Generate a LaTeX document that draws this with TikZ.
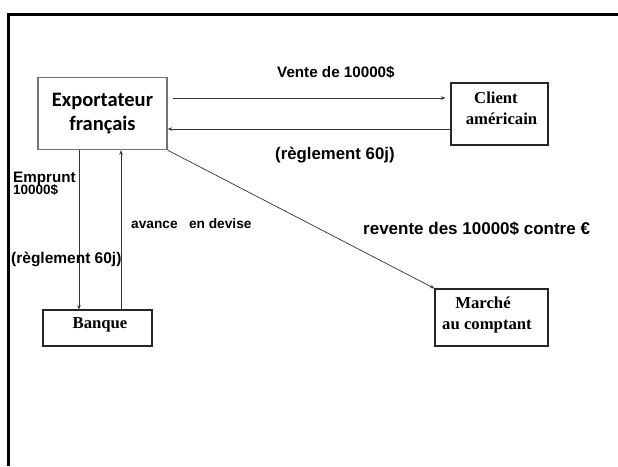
\documentclass[tikz,border=0pt]{standalone}
\usepackage{fontspec}
\newfontfamily\lsans{Liberation Sans}
\newfontfamily\lserif{Liberation Serif}
\newfontfamily\carl{Carlito}
\usetikzlibrary{arrows.meta}
\tikzset{
  boxA/.style={draw=black!55, line width=1.4pt, inner sep=0pt},
  boxB/.style={draw=black!85, line width=1.1pt, inner sep=0pt},
  lbl/.style={inner sep=0pt, anchor=base west, font=\lsans\bfseries},
  stxt/.style={inner sep=0pt, anchor=base, font=\lserif\bfseries\fontsize{16.7}{20}\selectfont},
  conn/.style={draw=black!80, line width=0.7pt, -{Stealth[length=4.5pt,width=3.5pt]}},
  frameline/.style={draw=black, line width=2.6pt}
}
\begin{document}
\begin{tikzpicture}[x=1pt,y=-1pt]
\useasboundingbox (0,0) rectangle (618,466);
% frame
\coordinate (fa) at (8.3,466);
\coordinate (fb) at (8.3,14.5);
\coordinate (fc) at (620,14.5);
\draw[frameline] (fa) -- (fb) -- (fc);
% boxes
\node[boxA, minimum width=129pt, minimum height=72pt, align=center,
      font=\carl\bfseries\fontsize{20.5}{24}\selectfont] (export) at (102.5,113.5)
      {Exportateur\\fran\c{c}ais};
\node[boxB, minimum width=97pt, minimum height=62pt] (client) at (499.5,114) {};
\node[stxt] (clientA) at (496,103) {Client};
\node[stxt] (clientB) at (501.5,124) {am\'ericain};
\node[boxB, minimum width=109pt, minimum height=36pt] (banque) at (97.5,328) {};
\node[stxt] (banqueT) at (100,328) {Banque};
\node[boxB, minimum width=113pt, minimum height=57pt] (marche) at (491.5,317.5) {};
\node[stxt] (marcheA) at (483,308) {March\'e};
\node[stxt] (marcheB) at (487,329) {au comptant};
% connectors
\draw[conn] ([xshift=5pt,yshift=15.5pt]export.east) -- ([xshift=-5pt,yshift=16pt]client.west);
\draw[conn] ([yshift=-15pt]client.west) -- ([yshift=-15.5pt]export.east);
\draw[conn] ([xshift=-23.5pt]export.south) -- ([xshift=-23.5pt]export.south |- banque.north);
\draw[conn] ([xshift=18.5pt]export.south |- banque.north) -- ([xshift=18.5pt]export.south);
\draw[conn] (export.south east) -- (marche.north west);
% labels
\node[lbl, font=\lsans\bfseries\fontsize{15.2}{18}\selectfont] (vente) at (277,77) {Vente de 10000\$};
\node[lbl, font=\lsans\bfseries\fontsize{16.8}{20}\selectfont] (regl1) at (275,159) {(r\`eglement 60j)};
\node[lbl, font=\lsans\bfseries\fontsize{17}{20}\selectfont] (revente) at (363,234) {revente des 10000\$ contre €};
\node[lbl, font=\lsans\bfseries\fontsize{15.2}{18}\selectfont] (emprunt) at (13,182) {Emprunt};
\node[lbl, font=\lsans\bfseries\fontsize{13.5}{16}\selectfont] (empruntB) at (13,194.5) {10000\$};
\node[lbl, font=\lsans\bfseries\fontsize{15.5}{18}\selectfont] (regl2) at (11,263) {(r\`eglement 60j)};
\node[lbl, font=\lsans\bfseries\fontsize{13.7}{16}\selectfont] (avance) at (131,228) {avance\ \ \ en devise};
\end{tikzpicture}
\end{document}
